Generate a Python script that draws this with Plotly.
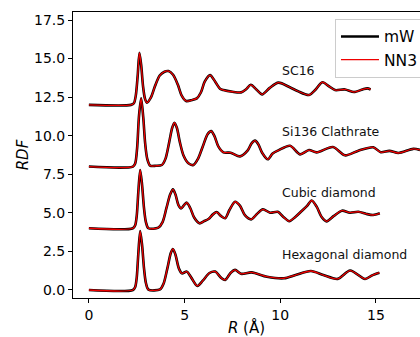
import plotly.graph_objects as go

# ---- data (absolute values incl. vertical offsets) ----
sc16_r = [0, 2.2, 2.35, 2.45, 2.55, 2.64, 2.73, 2.83, 2.93, 3.03, 3.25, 3.45, 3.7, 3.95, 4.16,
          4.4, 4.65, 4.85, 5.08, 5.4, 5.64, 5.85, 6.05, 6.33, 6.6, 6.85, 7.03, 7.5, 7.95, 8.2,
          8.46, 8.75, 9.05, 9.45, 9.9, 10.5, 10.9, 11.5, 11.85, 12.2, 12.55, 12.86, 13.38,
          13.85, 14.3, 14.55, 14.72]
sc16_g = [12, 12, 12.1, 12.6, 13.9, 15.38, 14.6, 13.2, 12.4, 12.14, 12.5, 13.2, 13.9, 14.15, 14.19,
          13.95, 13.3, 12.6, 12.25, 12.32, 12.42, 12.8, 13.5, 13.93, 13.5, 13.05, 12.96, 12.85, 12.81, 13.0,
          13.3, 13.0, 12.68, 13.1, 13.44, 13.14, 12.9, 12.64, 13.0, 13.47, 13.2, 12.96, 13.0,
          12.83, 13.0, 13.07, 13.0]

si136_r = [0, 2.3, 2.42, 2.52, 2.62, 2.73, 2.84, 2.94, 3.05, 3.2, 3.5, 3.81, 4.0, 4.2, 4.35, 4.47,
           4.6, 4.75, 4.95, 5.2, 5.46, 5.7, 5.95, 6.2, 6.39, 6.55, 6.77, 7.03, 7.4, 7.9, 8.3, 8.5,
           8.68, 8.85, 9.05, 9.35, 9.6, 9.9, 10.51, 11.03, 11.5, 11.9, 12.75, 13.38, 14.08, 14.86,
           15.25, 15.7, 16.17, 16.95, 17.3]
si136_g = [8, 8, 8.2, 9.2, 11.3, 12.42, 11.2, 9.5, 8.5, 8.06, 8.05, 8.1, 8.5, 9.6, 10.5, 10.84,
           10.5, 9.6, 8.7, 8.21, 8.1, 8.5, 9.3, 10.1, 10.3, 10.0, 9.29, 8.92, 8.9, 8.66, 9.05, 9.5,
           9.68, 9.45, 8.9, 8.47, 8.85, 9.05, 9.35, 8.79, 9.07, 8.92, 9.27, 8.73, 9.03, 9.25,
           8.93, 9.02, 8.88, 9.15, 9.08]

cubic_r = [0, 2.3, 2.42, 2.5, 2.58, 2.68, 2.78, 2.88, 2.98, 3.11, 3.63, 3.85, 4.05, 4.25, 4.39,
           4.52, 4.68, 4.82, 4.97, 5.12, 5.3, 5.5, 5.78, 6.0, 6.25, 6.48, 6.68, 6.9, 7.12, 7.35,
           7.64, 7.9, 8.15, 8.48, 8.8, 9.09, 9.47, 9.87, 10.15, 10.47, 10.8, 11.12, 11.4, 11.64,
           11.9, 12.15, 12.42, 12.8, 13.22, 13.64, 14.08, 14.5, 14.85, 15.2]
cubic_g = [4, 4, 4.2, 4.8, 6.3, 7.78, 6.8, 5.3, 4.4, 4.0, 4.04, 4.4, 5.3, 6.2, 6.52,
           6.2, 5.5, 5.29, 5.5, 5.66, 5.3, 4.7, 4.32, 4.45, 4.6, 4.9, 5.05, 4.8, 4.65, 5.2,
           5.72, 5.45, 4.85, 4.58, 4.95, 5.23, 5.01, 5.07, 4.75, 4.46, 4.75, 5.12, 5.45, 5.8,
           5.4, 4.75, 4.45, 4.8, 5.14, 5.01, 5.07, 4.93, 4.86, 4.97]

hex_r = [0, 2.3, 2.42, 2.5, 2.58, 2.68, 2.78, 2.88, 2.98, 3.11, 3.72, 3.9, 4.1, 4.28, 4.39,
         4.52, 4.7, 4.86, 5.12, 5.35, 5.67, 5.95, 6.3, 6.6, 6.9, 7.12, 7.4, 7.64, 7.95, 8.5,
         9.3, 10.2, 10.8, 11.6, 12.25, 13.0, 13.65, 14.43, 14.8, 15.18]
hex_g = [0, 0, 0.2, 0.8, 2.3, 3.82, 2.9, 1.4, 0.45, 0.02, 0.04, 0.4, 1.4, 2.4, 2.66,
         2.3, 1.4, 1.08, 1.19, 0.8, 0.26, 0.6, 1.1, 1.19, 0.8, 0.65, 1.1, 1.3, 1.05, 1.14,
         0.86, 0.76, 0.97, 1.23, 0.97, 0.72, 1.26, 0.71, 0.95, 1.12]

labels = ["SC16", "Si136 Clathrate", "Cubic diamond", "Hexagonal diamond"]
label_y = [14.25, 10.3, 6.3, 2.33]
label_x = 10.0

xticks = [0, 5, 10, 15]
yticks = [0.0, 2.5, 5.0, 7.5, 10.0, 12.5, 15.0, 17.5]
ytick_text = ["0.0", "2.5", "5.0", "7.5", "10.0", "12.5", "15.0", "17.5"]

series = [(sc16_r, sc16_g), (si136_r, si136_g), (cubic_r, cubic_g), (hex_r, hex_g)]

fig = go.Figure()
for i, (r, g) in enumerate(series):
    fig.add_trace(go.Scatter(x=r, y=g, mode="lines", line=dict(color="black", width=2.6, shape="spline", smoothing=0.8),
                             name="mW", legendgroup="mW", showlegend=(i == 0)))
for i, (r, g) in enumerate(series):
    fig.add_trace(go.Scatter(x=r, y=g, mode="lines", line=dict(color="#ee0000", width=1.3, shape="spline", smoothing=0.8),
                             name="NN3", legendgroup="NN3", showlegend=(i == 0)))

for t, yy in zip(labels, label_y):
    fig.add_annotation(x=label_x, y=yy, text=t, showarrow=False, xanchor="left", yanchor="middle",
                       font=dict(size=12.5, color="#111"))

fig.update_layout(
    width=420, height=337,
    margin=dict(l=73, r=0, t=12, b=39, autoexpand=False),
    paper_bgcolor="white", plot_bgcolor="white",
    font=dict(family="DejaVu Sans", color="black"),
    showlegend=True,
    legend=dict(x=0.755, y=0.976, xanchor="left", yanchor="top", bgcolor="white",
                bordercolor="#cccccc", borderwidth=1, font=dict(size=15.5), tracegroupgap=0,
                itemwidth=38),
)
fig.update_xaxes(range=[-0.83, 17.3], tickvals=xticks, ticks="outside", ticklen=4, tickcolor="black",
                 showline=True, linecolor="black", linewidth=1, mirror=True, showgrid=False, zeroline=False,
                 tickfont=dict(size=14), title=dict(text="<i>R</i> (Å)", font=dict(size=15), standoff=2))
fig.update_yaxes(range=[-0.52, 18.02], tickvals=yticks, ticktext=ytick_text, ticks="outside", ticklen=4,
                 tickcolor="black", showline=True, linecolor="black", linewidth=1, showgrid=False, zeroline=False,
                 tickfont=dict(size=14), title=dict(text="<i>RDF</i>", font=dict(size=15), standoff=1))

fig.write_html("out.html")
